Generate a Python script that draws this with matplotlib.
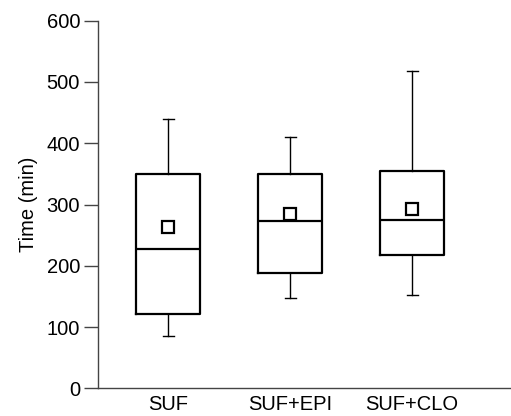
import matplotlib
matplotlib.use("Agg")
import matplotlib.pyplot as plt

plt.rcParams['font.family'] = ['Liberation Sans', 'DejaVu Sans']

# box statistics (minutes)
groups = ['SUF', 'SUF+EPI', 'SUF+CLO']
whisker_low = [85, 148, 152]
q1 = [121, 189, 218]
medians = [227, 273, 274]
q3 = [350, 350, 355]
whisker_high = [440, 410, 518]
means = [264, 284, 292]

stats = []
for i, g in enumerate(groups):
    stats.append({
        'label': g, 'whislo': whisker_low[i], 'q1': q1[i], 'med': medians[i],
        'q3': q3[i], 'whishi': whisker_high[i], 'mean': means[i],
    })

fig = plt.figure(figsize=(5.11, 4.16), dpi=100)
ax = fig.add_axes([0.192, 0.0666, 0.808, 0.8836])

ax.bxp(stats, positions=[1, 2, 3], widths=0.525, showmeans=True, showfliers=False,
       boxprops=dict(color='black', linewidth=1.6),
       medianprops=dict(color='black', linewidth=1.6),
       whiskerprops=dict(color='black', linewidth=1.0),
       capprops=dict(color='black', linewidth=1.0),
       capwidths=0.09,
       meanprops=dict(marker='s', markerfacecolor='white', markeredgecolor='black',
                      markersize=9, markeredgewidth=1.6))

ax.set_xlim(0.426, 3.81)
ax.set_ylim(0, 600)
ax.set_yticks([0, 100, 200, 300, 400, 500, 600])
ax.set_ylabel('Time (min)', fontsize=14.5, labelpad=6)

for s in ['top', 'right']:
    ax.spines[s].set_visible(False)
for s in ['left', 'bottom']:
    ax.spines[s].set_color('#444444')
    ax.spines[s].set_linewidth(1.0)

ax.tick_params(axis='y', direction='out', length=10, width=1.0, color='#444444',
               labelsize=14.5, pad=3)
ax.tick_params(axis='x', length=0, labelsize=14.5, pad=5)

fig.savefig('out.png', dpi=100)
